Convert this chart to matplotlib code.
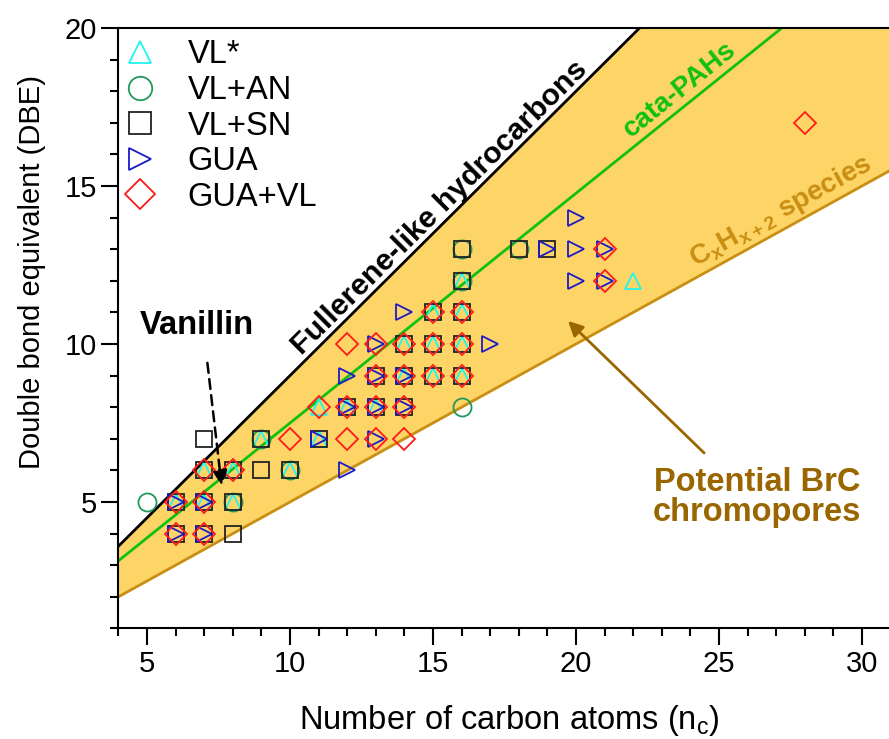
import numpy as np
import matplotlib
matplotlib.use('Agg')
import matplotlib.pyplot as plt

plt.rcParams['font.family'] = ['Liberation Sans', 'DejaVu Sans']
plt.rcParams['mathtext.fontset'] = 'custom'
plt.rcParams['mathtext.rm'] = 'Liberation Sans'
plt.rcParams['mathtext.bf'] = 'Liberation Sans:bold'

# data: (number of carbon atoms, DBE) for each reaction system
vl_c = [6, 7, 7, 8, 8, 9, 10, 11, 11, 12, 13, 14, 14, 15, 15, 15, 16, 16, 16, 16, 22]
vl_dbe = [5, 5, 6, 6, 5, 7, 6, 7, 8, 8, 8, 9, 10, 9, 10, 11, 9, 10, 11, 12, 12]

an_c = [5, 8, 9, 10, 16, 16, 16, 18]
an_dbe = [5, 5, 7, 6, 8, 12, 13, 13]

sn_c = [6, 7, 8, 6, 7, 8, 7, 8, 9, 10, 7, 9, 11, 12, 13, 14, 13, 14, 15, 16,
        14, 15, 16, 15, 16, 16, 16, 18, 19]
sn_dbe = [4, 4, 4, 5, 5, 5, 6, 6, 6, 6, 7, 7, 7, 8, 8, 8, 9, 9, 9, 9,
          10, 10, 10, 11, 11, 12, 13, 13, 13]

gua_c = [6, 7, 6, 7, 11, 13, 12, 12, 13, 14, 12, 13, 14, 13, 17, 14, 19, 20, 20, 20, 21, 21]
gua_dbe = [4, 4, 5, 5, 7, 7, 6, 8, 8, 8, 9, 9, 9, 10, 10, 11, 13, 12, 13, 14, 12, 13]

guavl_c = [6, 7, 6, 7, 7, 8, 10, 12, 13, 14, 11, 12, 13, 14, 13, 14, 15, 16,
           12, 13, 14, 15, 16, 15, 16, 21, 21, 28]
guavl_dbe = [4, 4, 5, 5, 6, 6, 7, 7, 7, 7, 8, 8, 8, 8, 9, 9, 9, 9,
             10, 10, 10, 10, 10, 11, 11, 12, 13, 17]

# reference lines DBE = slope * C + intercept
fullerene = (0.9, 0.0)
cata_pah = (0.727, 0.23)
polyene = (0.5, 0.0)

fig = plt.figure(figsize=(8.89, 7.39), dpi=100)
ax = fig.add_axes([118.4 / 889, 110.6 / 739, 800.8 / 889, 600.4 / 739])

xx = np.linspace(4, 32, 200)
ax.fill_between(xx, polyene[0] * xx + polyene[1], fullerene[0] * xx + fullerene[1],
                color='#FDD567', lw=0, zorder=0)
ax.plot(xx, fullerene[0] * xx + fullerene[1], color='black', lw=2, zorder=1)
ax.plot(xx, cata_pah[0] * xx + cata_pah[1], color='#11C011', lw=2, zorder=1)
ax.plot(xx, polyene[0] * xx + polyene[1], color='#C98E12', lw=2, zorder=1)

mew = 1.3
ax.plot(vl_c, vl_dbe, ls='none', marker='^', ms=12, mfc='none', mec='#1FF5F0', mew=mew, label='VL*')
ax.plot(an_c, an_dbe, ls='none', marker='o', ms=13, mfc='none', mec='#1E9A5A', mew=mew, label='VL+AN')
ax.plot(sn_c, sn_dbe, ls='none', marker='s', ms=12, mfc='none', mec='#222222', mew=mew, label='VL+SN')
ax.plot(gua_c, gua_dbe, ls='none', marker='>', ms=12, mfc='none', mec='#1A1AC8', mew=mew, label='GUA')
ax.plot(guavl_c, guavl_dbe, ls='none', marker='D', ms=11.5, mfc='none', mec='#FF1A1A', mew=mew, label='GUA+VL')

# annotations
ax.text(15.22, 14.3, 'Fullerene-like hydrocarbons', rotation=44.8, fontsize=21.8,
        fontweight='bold', ha='center', va='center', rotation_mode='anchor')
ax.text(23.64, 18.04, 'cata-PAHs', rotation=38.8, fontsize=20, color='#11C011',
        fontweight='bold', ha='center', va='center', rotation_mode='anchor')
ax.text(27.17, 14.18, r'$\mathbf{C_{x}H_{x+2}}$ species', rotation=28.9, fontsize=20,
        color='#C98E12', fontweight='bold', ha='center', va='center', rotation_mode='anchor')
ax.text(6.75, 10.6, 'Vanillin', fontsize=23.5, fontweight='bold', ha='center', va='center')
ax.annotate('', xy=(7.62, 5.44), xytext=(7.1, 9.49),
            arrowprops=dict(arrowstyle='-|>', color='black', lw=1.8, ls=(0, (4, 2.5)),
                            mutation_scale=22))
ax.text(26.33, 5.15, 'Potential BrC\nchromopores', fontsize=23.5, fontweight='bold',
        color='#9A6600', ha='center', va='center', linespacing=0.95)
ax.annotate('', xy=(19.65, 10.79), xytext=(24.55, 6.49),
            arrowprops=dict(arrowstyle='-|>', color='#9A6600', lw=2, mutation_scale=22))

ax.set_xlim(4, 32)
ax.set_ylim(1, 20)
ax.set_xticks([5, 10, 15, 20, 25, 30])
ax.set_xticks(np.arange(4, 33, 1), minor=True)
ax.set_yticks([5, 10, 15, 20])
ax.set_yticks(np.arange(1, 21, 1), minor=True)
ax.tick_params(which='major', length=12, width=1.5, direction='out', labelsize=21)
ax.tick_params(which='minor', length=6, width=1.5, direction='out')
for s in ax.spines.values():
    s.set_linewidth(1.5)
ax.set_xlabel(r'Number of carbon atoms (n$_\mathregular{c}$)', fontsize=23.5)
ax.set_ylabel('Double bond equivalent (DBE)', fontsize=21)
ax.xaxis.set_label_coords((509 - 118.4) / 800.8, -0.124)
ax.yaxis.set_label_coords(-0.090, 0.594)

ax.legend(loc='upper left', bbox_to_anchor=(0.007, 0.981), frameon=False, fontsize=23.5,
          markerscale=1.3, handlelength=1.0, handletextpad=0.95, labelspacing=0.14,
          borderaxespad=0, borderpad=0)

fig.savefig('out.png', dpi=100)
